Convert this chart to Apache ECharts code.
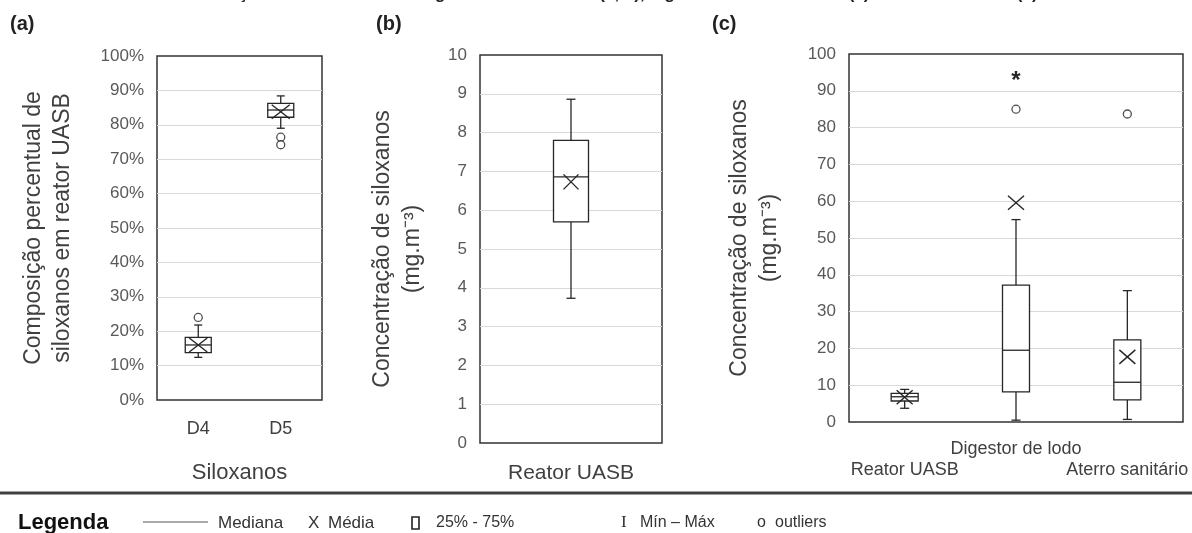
<!DOCTYPE html>
<html>
<head>
<meta charset="utf-8">
<script src="https://cdn.jsdelivr.net/npm/echarts@6/dist/echarts.min.js"></script>
<style>
  html, body { margin: 0; background: #fff; }
  #chart { width: 1192px; height: 533px; }
</style>
</head>
<body>
<div id="chart"></div>
<script>
// (a) composição percentual de siloxanos em reator UASB
const siloxanos = ['D4', 'D5'];
// min, Q1, mediana, Q3, max
const compBoxes = [
  [12.4, 13.8, 16.0, 18.2, 21.8],
  [79.0, 82.2, 84.3, 86.2, 88.4]
];
const compMeans = [16.0, 83.8];
const compOutliers = [[0, 24.0], [1, 76.4], [1, 74.2]];

// (b) concentração em reator UASB
const reator = ['Reator UASB'];
const reatorBoxes = [[3.73, 5.7, 6.86, 7.8, 8.86]];
const reatorMeans = [6.73];

// (c) concentração por fonte
const fontes = ['Reator UASB', 'Digestor de lodo', 'Aterro sanitário'];
const fonteBoxes = [
  [3.73, 5.7, 6.86, 7.8, 8.86],
  [0.5, 8.2, 19.5, 37.2, 55.0],
  [0.7, 6.0, 10.8, 22.3, 35.7]
];
const fonteMeans = [6.73, 59.6, 17.7];
const fonteOutliers = [[1, 85.0], [2, 83.7]];
const fonteExtremos = [[1, 93.8]];

const INK = '#262626';
const FONT = 'Liberation Sans, Arial, sans-serif';

function boxItem(boxW, capW) {
  return function (params, api) {
    const cat = api.value(0);
    const x = api.coord([cat, 0])[0];
    const y = i => api.coord([cat, api.value(i)])[1];
    const yMin = y(1), yQ1 = y(2), yMed = y(3), yQ3 = y(4), yMax = y(5);
    const st = { stroke: INK, lineWidth: 1.3, fill: null };
    return {
      type: 'group',
      children: [
        { type: 'line', shape: { x1: x, y1: yMax, x2: x, y2: yQ3 }, style: st },
        { type: 'line', shape: { x1: x, y1: yQ1, x2: x, y2: yMin }, style: st },
        { type: 'line', shape: { x1: x - capW / 2, y1: yMax, x2: x + capW / 2, y2: yMax }, style: st },
        { type: 'line', shape: { x1: x - capW / 2, y1: yMin, x2: x + capW / 2, y2: yMin }, style: st },
        { type: 'rect', shape: { x: x - boxW / 2, y: yQ3, width: boxW, height: yQ1 - yQ3 },
          style: { stroke: INK, lineWidth: 1.3, fill: '#fff' } },
        { type: 'line', shape: { x1: x - boxW / 2, y1: yMed, x2: x + boxW / 2, y2: yMed }, style: st }
      ]
    };
  };
}

function meanItem(w, h) {
  return function (params, api) {
    const c = api.coord([api.value(0), api.value(1)]);
    const st = { stroke: INK, lineWidth: 1.4 };
    return {
      type: 'group',
      children: [
        { type: 'line', shape: { x1: c[0] - w / 2, y1: c[1] - h / 2, x2: c[0] + w / 2, y2: c[1] + h / 2 }, style: st },
        { type: 'line', shape: { x1: c[0] - w / 2, y1: c[1] + h / 2, x2: c[0] + w / 2, y2: c[1] - h / 2 }, style: st }
      ]
    };
  };
}

function starItem(params, api) {
  const c = api.coord([api.value(0), api.value(1)]);
  return {
    type: 'text', x: c[0], y: c[1] + 5,
    style: { text: '*', fill: INK, font: 'bold 24px ' + FONT, textAlign: 'center', textVerticalAlign: 'middle' }
  };
}

const boxData = arr => arr.map((b, i) => [i].concat(b));
const meanData = arr => arr.map((v, i) => [i, v]);

const gridBase = { show: true, borderColor: '#333', borderWidth: 1.5, backgroundColor: '#fff' };
const yBase = {
  type: 'value', min: 0,
  axisLine: { show: false }, axisTick: { show: false },
  splitLine: { lineStyle: { color: '#d9d9d9', width: 1.2 }, showMinLine: false, showMaxLine: false },
  axisLabel: { color: '#595959', fontSize: 17, fontFamily: FONT, margin: 13 },
  nameLocation: 'middle', nameRotate: 90,
  nameTextStyle: { color: '#404040', fontSize: 23, fontFamily: FONT, lineHeight: 30 }
};
const xBase = {
  type: 'category', boundaryGap: true,
  axisLine: { show: false }, axisTick: { show: false },
  axisLabel: { color: '#404040', fontSize: 18, fontFamily: FONT, margin: 20, interval: 0 }
};

const chart = echarts.init(document.getElementById('chart'), null, { renderer: 'canvas' });

chart.setOption({
  animation: false,
  backgroundColor: '#fff',
  grid: [
    Object.assign({ left: 157, top: 56, width: 165, height: 344 }, gridBase),
    Object.assign({ left: 480, top: 55, width: 182, height: 388 }, gridBase),
    Object.assign({ left: 849, top: 54, width: 334, height: 368 }, gridBase)
  ],
  xAxis: [
    Object.assign({}, xBase, {
      gridIndex: 0, data: siloxanos,
      name: 'Siloxanos', nameLocation: 'middle', nameGap: 62,
      nameTextStyle: { color: '#404040', fontSize: 22, fontFamily: FONT }
    }),
    Object.assign({}, xBase, {
      gridIndex: 1, data: reator,
      axisLabel: Object.assign({}, xBase.axisLabel, { fontSize: 21, margin: 20 })
    }),
    Object.assign({}, xBase, {
      gridIndex: 2, data: fontes,
      axisLabel: Object.assign({}, xBase.axisLabel, {
        fontSize: 18, margin: 17, lineHeight: 21,
        formatter: (v, i) => (i === 1 ? v : '\n' + v)
      })
    })
  ],
  yAxis: [
    Object.assign({}, yBase, {
      gridIndex: 0, max: 100, interval: 10,
      axisLabel: Object.assign({}, yBase.axisLabel, { formatter: '{value}%' }),
      name: 'Composição percentual de\nsiloxanos em reator UASB', nameGap: 80,
      nameTextStyle: Object.assign({}, yBase.nameTextStyle, { lineHeight: 29 })
    }),
    Object.assign({}, yBase, {
      gridIndex: 1, max: 10, interval: 1,
      name: 'Concentração de siloxanos\n(mg.m⁻³)', nameGap: 52
    }),
    Object.assign({}, yBase, {
      gridIndex: 2, max: 100, interval: 10,
      name: 'Concentração de siloxanos\n(mg.m⁻³)', nameGap: 64
    })
  ],
  series: [
    { type: 'custom', xAxisIndex: 0, yAxisIndex: 0, data: boxData(compBoxes),
      encode: { x: 0, y: [1, 2, 3, 4, 5] }, renderItem: boxItem(26, 8), z: 2 },
    { type: 'custom', xAxisIndex: 0, yAxisIndex: 0, data: meanData(compMeans),
      encode: { x: 0, y: 1 }, renderItem: meanItem(18, 14), z: 3 },
    { type: 'scatter', xAxisIndex: 0, yAxisIndex: 0, data: compOutliers,
      symbol: 'circle', symbolSize: 8, z: 4,
      itemStyle: { color: '#fff', borderColor: INK, borderWidth: 1.3 } },

    { type: 'custom', xAxisIndex: 1, yAxisIndex: 1, data: boxData(reatorBoxes),
      encode: { x: 0, y: [1, 2, 3, 4, 5] }, renderItem: boxItem(35, 9), z: 2 },
    { type: 'custom', xAxisIndex: 1, yAxisIndex: 1, data: meanData(reatorMeans),
      encode: { x: 0, y: 1 }, renderItem: meanItem(15, 15), z: 3 },

    { type: 'custom', xAxisIndex: 2, yAxisIndex: 2, data: boxData(fonteBoxes),
      encode: { x: 0, y: [1, 2, 3, 4, 5] }, renderItem: boxItem(27, 9), z: 2 },
    { type: 'custom', xAxisIndex: 2, yAxisIndex: 2, data: meanData(fonteMeans),
      encode: { x: 0, y: 1 }, renderItem: meanItem(16, 14), z: 3 },
    { type: 'scatter', xAxisIndex: 2, yAxisIndex: 2, data: fonteOutliers,
      symbol: 'circle', symbolSize: 8, z: 4,
      itemStyle: { color: '#fff', borderColor: INK, borderWidth: 1.3 } },
    { type: 'custom', xAxisIndex: 2, yAxisIndex: 2, data: fonteExtremos,
      encode: { x: 0, y: 1 }, renderItem: starItem, z: 4 }
  ],
  graphic: [
    // titulo cortado no topo
    { type: 'text', x: 596, y: -14,
      style: { text: 'Concentração de siloxanos em biogás de reator UASB (a, b), digestor de lodo de ETE (c) e aterro sanitário (c)',
        font: 'bold 17px ' + FONT, fill: '#222', textAlign: 'center', textVerticalAlign: 'top' } },
    { type: 'text', x: 10, y: 24, style: { text: '(a)', font: 'bold 20px ' + FONT, fill: '#222', textVerticalAlign: 'middle' } },
    { type: 'text', x: 376, y: 24, style: { text: '(b)', font: 'bold 20px ' + FONT, fill: '#222', textVerticalAlign: 'middle' } },
    { type: 'text', x: 712, y: 24, style: { text: '(c)', font: 'bold 20px ' + FONT, fill: '#222', textVerticalAlign: 'middle' } },

    // legenda
    { type: 'line', shape: { x1: 0, y1: 493, x2: 1192, y2: 493 }, style: { stroke: '#404040', lineWidth: 3 } },
    { type: 'text', x: 18, y: 523, style: { text: 'Legenda', font: 'bold 22px ' + FONT, fill: '#111', textVerticalAlign: 'middle' } },
    { type: 'line', shape: { x1: 143, y1: 522, x2: 208, y2: 522 }, style: { stroke: '#555', lineWidth: 1.2 } },
    { type: 'text', x: 218, y: 523, style: { text: 'Mediana', font: '17px ' + FONT, fill: '#333', textVerticalAlign: 'middle' } },
    { type: 'text', x: 308, y: 523, style: { text: 'X', font: '17px ' + FONT, fill: '#333', textVerticalAlign: 'middle' } },
    { type: 'text', x: 328, y: 523, style: { text: 'Média', font: '17px ' + FONT, fill: '#333', textVerticalAlign: 'middle' } },
    { type: 'rect', shape: { x: 412, y: 517, width: 7, height: 12 }, style: { stroke: '#222', lineWidth: 1.6, fill: '#fff' } },
    { type: 'text', x: 436, y: 523, style: { text: '25% - 75%', font: '16px ' + FONT, fill: '#333', textVerticalAlign: 'middle' } },
    { type: 'text', x: 621, y: 523, style: { text: 'I', font: '17px Liberation Serif, serif', fill: '#333', textVerticalAlign: 'middle' } },
    { type: 'text', x: 640, y: 523, style: { text: 'Mín – Máx', font: '16px ' + FONT, fill: '#333', textVerticalAlign: 'middle' } },
    { type: 'text', x: 757, y: 523, style: { text: 'o', font: '16px ' + FONT, fill: '#333', textVerticalAlign: 'middle' } },
    { type: 'text', x: 775, y: 523, style: { text: 'outliers', font: '16px ' + FONT, fill: '#333', textVerticalAlign: 'middle' } }
  ]
});
</script>
</body>
</html>
